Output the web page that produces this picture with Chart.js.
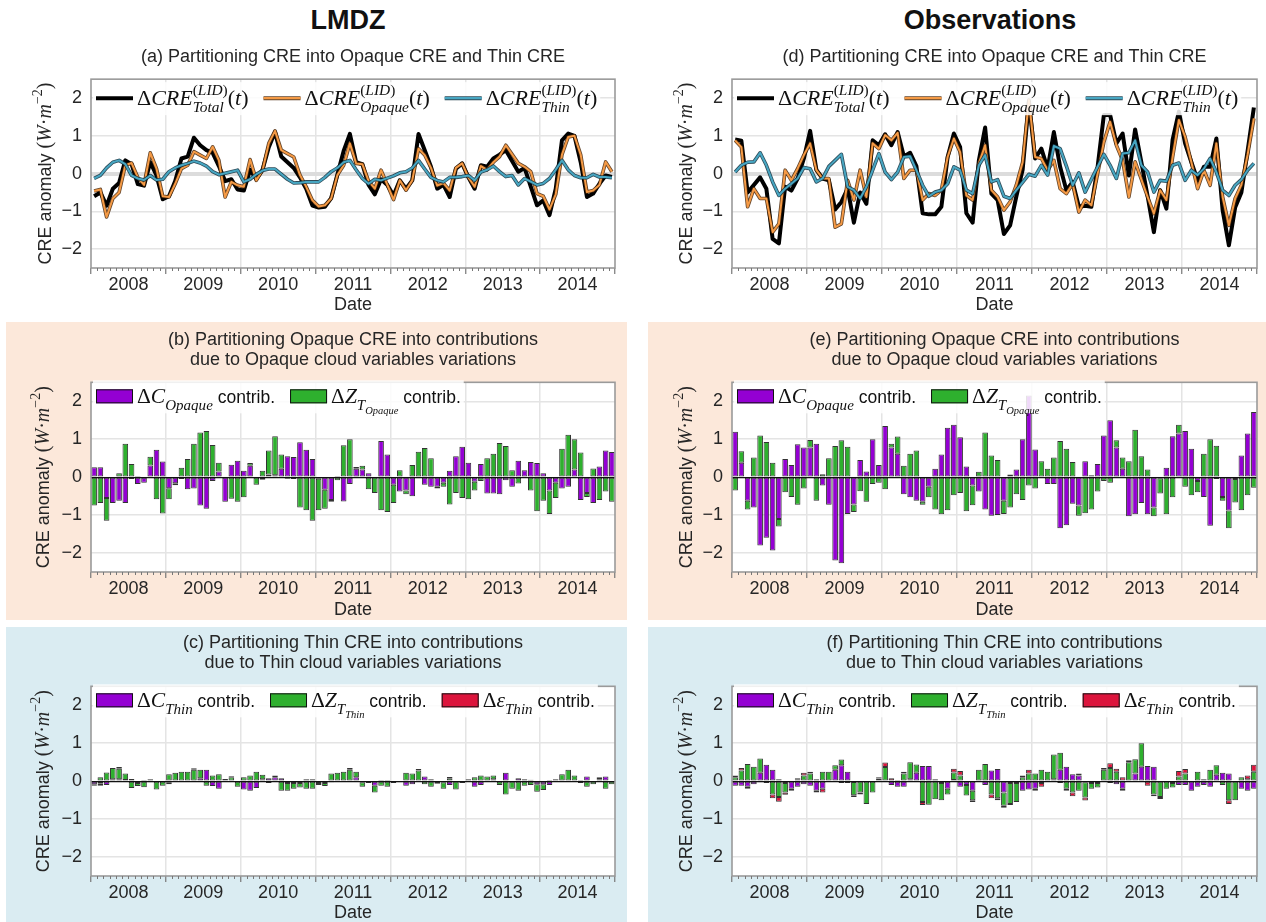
<!DOCTYPE html>
<html>
<head>
<meta charset="utf-8">
<script src="https://cdn.jsdelivr.net/npm/chart.js@4.4.1/dist/chart.umd.min.js"></script>
<style>
  body { margin: 0; background: #fff; width: 1266px; height: 922px; position: relative; overflow: hidden;
         font-family: "Liberation Sans", Arial, sans-serif; }
  .head { position: absolute; top: 5px; width: 300px; text-align: center; font-weight: bold; font-size: 27px; color: #111; }
  .box { position: absolute; }
  .box canvas { display: block; }
  .peach { background: #fce8da; }
  .blue { background: #daecf2; }
</style>
</head>
<body>
<div class="head" style="left:198px">LMDZ</div>
<div class="head" style="left:840px">Observations</div>

<div class="box" style="left:0;top:36px"><canvas id="cA" width="640" height="284"></canvas></div>
<div class="box" style="left:640px;top:36px"><canvas id="cD" width="626" height="284"></canvas></div>
<div class="box peach" style="left:6px;top:322px"><canvas id="cB" width="621" height="298"></canvas></div>
<div class="box peach" style="left:648px;top:322px"><canvas id="cE" width="618" height="298"></canvas></div>
<div class="box blue" style="left:6px;top:627px"><canvas id="cC" width="621" height="295"></canvas></div>
<div class="box blue" style="left:648px;top:627px"><canvas id="cF" width="618" height="295"></canvas></div>

<script>
// monthly anomalies, Jan 2008 .. Dec 2014 (W m-2)
const years = ['2008', '2009', '2010', '2011', '2012', '2013', '2014'];
const xTicks = [0, 6, 12, 18, 24, 30, 36, 42, 48, 54, 60, 66, 72, 78, 84];
const yTicks = [-2, -1, 0, 1, 2];

// LMDZ: total / opaque / thin CRE
const lmdzTotal = [
  -0.6, -0.5, -0.85, -0.4, -0.25, 0.35, 0.25, -0.28, -0.32, 0.3, -0.05, -0.68,
  -0.6, -0.2, 0.4, 0.45, 0.95, 0.75, 0.62, 0.55, 0.2, -0.2, -0.15, -0.42,
  -0.45, 0.1, -0.15, 0.1, 0.7, 1.1, 0.45, 0.3, 0.15, -0.1, -0.4, -0.85,
  -0.9, -0.88, -0.65, 0.0, 0.6, 1.05, 0.3, 0.25, -0.3, -0.55, -0.15, -0.3,
  -0.58, -0.18, -0.4, -0.18, 1.05, 0.62, 0.18, -0.4, -0.3, -0.62, 0.13, 0.27,
  -0.1, -0.4, 0.22, 0.18, 0.4, 0.5, 0.62, 0.0, 0.05, 0.15, 0.0, -0.84,
  -0.71, -1.1, -0.4, 0.88, 1.06, 1.0, 0.3, -0.62, -0.53, -0.27, -0.05, -0.09
];
const lmdzOpaque = [
  -0.46, -0.42, -1.15, -0.66, -0.5, 0.22, 0.28, -0.1, -0.3, 0.55, 0.13, -0.6,
  -0.62, -0.27, 0.13, 0.22, 0.58, 0.49, 0.4, 0.71, 0.35, -0.62, -0.22, -0.31,
  -0.35, 0.37, -0.18, 0.09, 0.8, 1.13, 0.62, 0.53, 0.44, -0.04, -0.35, -0.71,
  -0.87, -0.84, -0.66, -0.04, 0.22, 0.8, 0.27, 0.25, -0.2, -0.4, 0.09, -0.3,
  -0.69, -0.18, -0.44, -0.18, 0.66, 0.49, 0.15, -0.32, -0.25, -0.45, 0.15, 0.27,
  -0.1, -0.35, 0.2, 0.1, 0.3, 0.45, 0.75, 0.0, 0.27, 0.18, 0.05, -0.53,
  -0.6, -0.95, -0.55, 0.5, 0.97, 1.0, 0.5, -0.49, -0.45, -0.3, 0.31, 0.05
];
const lmdzThin = [
  -0.13, -0.05, 0.15, 0.3, 0.35, 0.25, -0.05, -0.13, -0.17, -0.05, -0.17, -0.15,
  0.05, 0.15, 0.22, 0.27, 0.33, 0.28, 0.2, 0.05, -0.03, 0.0, 0.05, 0.09,
  -0.22, -0.15, -0.02, 0.08, 0.12, 0.12, 0.0, -0.15, -0.25, -0.24, -0.22, -0.22,
  -0.22, -0.1, 0.05, 0.15, 0.3, 0.35, 0.1, -0.13, -0.27, -0.15, -0.18, -0.12,
  -0.06, 0.02, 0.05, 0.15, 0.35, 0.12, -0.1, -0.18, -0.22, -0.1, -0.1, -0.08,
  -0.05, -0.18, 0.04, 0.1, 0.2, 0.05, -0.08, -0.05, -0.3, -0.13, 0.0, -0.3,
  -0.26, -0.13, 0.1, 0.35, 0.1, -0.05, -0.11, -0.11, -0.02, -0.09, -0.09, -0.11
];

// Observations: total / opaque / thin CRE
const obsTotal = [
  0.9, 0.87, -0.5, 0.0, -0.1, -0.4, -1.73, -1.85, -0.35, -0.45, -0.13, 0.4,
  1.13, 0.1, -0.13, -0.18, -0.95, -0.75, -0.4, -1.3, -0.5, -0.8, 0.88, 0.75,
  1.04, 0.75, 1.1, 0.45, 0.55, 0.2, -1.05, -1.08, -1.08, -0.88, 0.44, 1.06,
  0.7, -1.05, -1.3, 0.35, 1.22, -0.53, -0.7, -1.6, -1.37, -0.6, 0.1, 1.9,
  0.4, 0.66, 0.13, 1.1, 0.18, -0.44, -0.22, -0.88, -0.85, -0.88, 0.18, 1.55,
  1.55, 0.8, 1.06, -0.05, 1.17, 0.3, -0.6, -1.55, -0.44, -0.93, 0.9, 1.64,
  0.8, 0.3, -0.18, 0.18, 0.18, 0.93, -0.97, -1.9, -0.9, -0.5, 0.6, 1.75
];
const obsOpaque = [
  0.88, 0.7, -0.88, -0.4, -0.66, -0.66, -1.55, -1.33, 0.09, -0.18, 0.13, 0.49,
  0.8, 0.09, -0.13, -0.13, -1.42, -1.33, -0.18, -0.7, 0.09, -0.62, 0.8, 0.66,
  1.02, 0.88, 1.08, -0.13, 0.09, 0.09, -0.7, -0.53, -0.58, -0.44, 0.44, 0.93,
  0.57, -0.58, -0.7, 0.27, 0.75, -0.44, -0.62, -0.97, -0.75, -0.3, 0.3, 1.95,
  0.44, 0.4, 0.09, 0.35, -0.4, -0.53, -0.27, -1.02, -0.7, -0.84, 0.0, 0.84,
  1.37, 0.75, 0.35, -0.62, 0.31, 0.0, -0.62, -1.06, -0.44, -0.7, 0.44, 1.42,
  0.97, 0.3, -0.4, 0.09, -0.31, 0.8, -0.62, -1.37, -0.66, -0.3, 0.5, 1.46
];
const obsThin = [
  0.04, 0.22, 0.3, 0.31, 0.55, 0.22, -0.22, -0.58, -0.4, -0.27, -0.13, 0.16,
  0.13, -0.22, -0.13, 0.19, 0.35, 0.51, -0.35, -0.44, -0.66, -0.35, 0.09, 0.53,
  0.04, -0.16, 0.04, 0.44, 0.46, 0.09, -0.31, -0.6, -0.49, -0.44, -0.27, 0.18,
  0.09, -0.44, -0.53, 0.22, 0.49, -0.22, -0.16, -0.6, -0.66, -0.44, 0.0, -0.02,
  -0.07, 0.22, -0.04, 0.73, 0.66, 0.2, -0.31, 0.02, -0.49, 0.0, 0.18, 0.51,
  0.22, -0.13, 0.53, 0.55, 0.88, 0.22, 0.04, -0.49, -0.18, -0.2, 0.22, 0.28,
  -0.18, 0.09, -0.04, 0.13, 0.4, 0.04, -0.44, -0.58, -0.31, -0.16, 0.09, 0.27
];

// LMDZ opaque CRE split: cover (C) and altitude (Z_T) contributions
const lmdzOpqC = [
  0.26, 0.26, -0.55, -0.68, -0.62, -0.68, -0.05, -0.18, -0.15, 0.31, 0.72, 0.41,
  -0.29, -0.16, -0.05, -0.32, -0.3, -0.75, -0.83, -0.1, 0.15, -0.65, 0.33, 0.43,
  0.17, 0.3, 0.0, -0.07, 0.07, 0.05, 0.22, 0.55, 0.53, 0.92, 0.72, 0.48,
  -0.04, -0.33, -0.6, 0.03, -0.64, -0.18, 0.22, 0.2, 0.1, 0.0, 0.95, 0.6,
  -0.2, -0.38, -0.35, -0.5, -0.03, -0.2, -0.25, -0.25, -0.15, 0.17, 0.55, 0.8,
  0.38, -0.12, 0.35, -0.43, -0.43, -0.45, -0.08, -0.25, 0.43, 0.18, 0.4, 0.37,
  0.1, -0.35, -0.15, -0.3, -0.25, 0.2, -0.6, -0.42, -0.68, 0.28, 0.7, 0.66
];
const lmdzOpqZ = [
  -0.75, -0.68, -0.6, 0.0, 0.1, 0.88, 0.35, 0.03, 0.0, 0.23, -0.58, -0.96,
  -0.29, -0.05, 0.25, 0.48, 0.88, 1.18, 1.22, 0.85, 0.23, 0.0, -0.57, -0.65,
  -0.53, 0.07, -0.2, 0.17, 0.63, 1.03, 0.38, -0.04, -0.05, -0.8, -0.87, -1.15,
  -0.83, -0.5, -0.05, -0.08, 0.84, 1.0, 0.05, 0.1, -0.32, -0.42, -0.87, -0.92,
  -0.48, 0.18, -0.1, 0.32, 0.67, 0.77, 0.5, -0.05, -0.1, -0.72, -0.42, -0.55,
  -0.58, -0.23, -0.1, 0.5, 0.62, 0.9, 0.82, 0.18, -0.17, 0.0, -0.35, -0.9,
  -0.62, -0.62, -0.4, 0.75, 1.12, 0.8, 0.65, -0.1, 0.23, -0.6, -0.38, -0.65
];

// Observed opaque CRE split
const obsOpqC = [
  1.2, 0.38, -0.62, -0.8, -1.8, -1.6, -1.93, -1.1, 0.48, 0.32, 0.87, 0.78,
  0.78, 0.88, -0.22, -0.73, -2.2, -2.27, -0.97, -0.72, 0.45, 0.15, 1.0, 0.32,
  1.35, 0.78, 0.62, -0.45, -0.53, -0.62, -0.65, -0.25, 0.22, 0.6, 1.3, 1.38,
  1.05, 0.28, -0.22, -0.38, -0.85, -1.02, -1.0, -0.62, 0.07, 0.2, 1.0, 2.15,
  0.73, 0.0, -0.18, -0.18, -1.35, -1.27, -0.7, -0.75, 0.42, 0.05, 0.35, 1.1,
  1.5, 0.78, 0.22, -1.03, -0.98, -0.68, -0.98, -0.8, -0.03, 0.25, 1.08, 1.15,
  1.22, 0.75, -0.1, -0.52, -1.28, -0.05, -0.52, -0.88, -0.05, 0.57, 1.15, 1.72
];
const obsOpqZ = [
  -0.35, 0.3, -0.23, 0.52, 1.1, 0.93, 0.38, -0.2, -0.4, -0.52, -0.73, -0.3,
  0.2, -0.62, 0.08, 0.5, 0.82, 0.97, 0.8, -0.2, -0.37, -0.65, -0.18, -0.15,
  -0.32, 0.1, 0.45, 0.3, 0.62, 0.7, -0.08, -0.28, -0.85, -0.98, -0.87, -0.48,
  -0.42, -0.9, -0.52, 0.14, 1.18, 0.57, 0.45, -0.35, -0.8, -0.45, -0.6, -0.22,
  -0.3, 0.42, 0.22, 0.52, 0.95, 0.75, 0.4, -0.27, -0.95, -0.85, -0.38, -0.1,
  -0.15, 0.19, 0.3, 0.42, 1.25, 0.55, 0.2, -0.23, -0.4, -0.98, -0.53, 0.23,
  -0.25, -0.48, -0.3, 0.62, 1.0, 0.83, -0.1, -0.47, -0.62, -0.87, -0.48, -0.28
];

// LMDZ thin CRE split: cover (C), altitude (Z_T), emissivity (eps)
const lmdzThinC = [
  -0.08, -0.07, -0.1, 0.05, 0.05, 0.03, 0.06, -0.05, 0.03, -0.03, 0.0, 0.0,
  -0.03, 0.0, 0.0, 0.0, 0.0, 0.08, 0.3, -0.13, -0.2, 0.03, 0.0, 0.02,
  -0.22, -0.25, -0.18, 0.05, 0.08, 0.1, 0.08, -0.05, -0.05, -0.05, 0.05, 0.05,
  -0.05, -0.05, -0.03, 0.0, 0.0, 0.0, 0.1, -0.03, 0.0, -0.12, 0.03, 0.0,
  0.0, -0.03, -0.12, -0.08, 0.0, 0.12, 0.05, 0.0, -0.03, -0.1, 0.0, 0.02,
  0.0, -0.15, -0.1, 0.0, 0.05, 0.0, 0.22, 0.0, 0.08, 0.05, 0.0, -0.08,
  -0.08, -0.1, 0.0, 0.0, 0.0, 0.0, 0.03, 0.12, 0.0, 0.05, 0.12, 0.0
];
const lmdzThinZ = [
  0.0, 0.1, 0.23, 0.3, 0.28, 0.17, -0.18, -0.08, -0.16, 0.05, -0.22, -0.12,
  0.18, 0.22, 0.25, 0.25, 0.3, 0.22, -0.12, 0.15, 0.18, 0.03, 0.1, -0.15,
  0.1, 0.15, 0.25, 0.12, -0.05, 0.05, -0.25, -0.2, -0.15, -0.12, -0.2, -0.2,
  -0.05, -0.08, 0.2, 0.22, 0.25, 0.3, 0.15, -0.12, -0.05, -0.18, -0.12, -0.15,
  -0.05, 0.02, 0.22, 0.2, 0.28, -0.08, -0.15, -0.07, -0.17, 0.08, -0.22, -0.05,
  0.05, 0.1, 0.15, 0.12, 0.1, -0.1, -0.35, -0.2, -0.25, -0.12, -0.1, -0.2,
  -0.15, 0.0, 0.05, 0.18, 0.3, 0.15, -0.05, -0.15, -0.08, 0.05, -0.2, -0.08
];
const lmdzThinE = [
  -0.04, -0.05, 0.0, 0.0, 0.04, 0.0, 0.0, 0.0, 0.0, 0.0, 0.0, 0.0,
  -0.05, 0.0, 0.0, 0.0, 0.04, 0.0, 0.0, 0.0, 0.0, 0.0, 0.03, 0.0,
  0.0, 0.0, 0.0, 0.0, 0.0, 0.0, 0.0, 0.0, 0.0, 0.0, 0.0, 0.0,
  0.0, 0.0, 0.0, 0.0, 0.0, 0.05, 0.0, 0.0, 0.0, 0.0, 0.0, 0.03,
  0.02, 0.0, 0.0, 0.0, 0.04, 0.0, 0.0, 0.0, 0.0, 0.03, 0.0, 0.0,
  0.0, 0.0, 0.0, 0.0, 0.0, 0.0, 0.0, 0.0, 0.0, 0.0, 0.04, 0.0,
  0.0, 0.03, 0.0, 0.0, 0.0, 0.0, 0.0, 0.0, 0.0, 0.0, 0.0, 0.0
];

// Observed thin CRE split
const obsThinC = [
  -0.12, -0.12, -0.15, -0.08, 0.22, 0.43, 0.3, 0.05, -0.05, -0.2, -0.15, -0.08,
  -0.12, -0.25, -0.2, 0.0, 0.3, 0.42, 0.25, -0.02, 0.0, 0.0, 0.0, 0.02,
  0.0, -0.1, -0.15, -0.15, 0.05, 0.22, 0.4, 0.4, 0.05, -0.05, -0.2, 0.03,
  -0.15, -0.1, -0.25, 0.0, -0.1, 0.28, 0.32, -0.3, -0.05, -0.05, -0.25, -0.22,
  -0.2, -0.05, -0.02, 0.05, 0.3, 0.38, 0.18, 0.15, -0.03, -0.05, -0.05, 0.0,
  -0.05, -0.08, -0.2, 0.0, 0.2, 0.38, 0.4, 0.38, 0.0, 0.0, -0.05, -0.1,
  -0.1, -0.25, -0.15, -0.1, -0.15, 0.17, 0.22, 0.2, 0.0, -0.2, -0.25, -0.2
];
const obsThinZ = [
  0.1, 0.28, 0.45, 0.38, 0.38, -0.05, -0.35, -0.42, -0.25, -0.05, 0.05, 0.15,
  0.2, 0.05, 0.25, 0.25, 0.12, 0.15, -0.05, -0.35, -0.3, -0.6, -0.3, 0.05,
  0.37, 0.0, 0.03, 0.2, 0.45, 0.22, -0.55, -0.62, -0.48, -0.45, -0.15, 0.2,
  0.15, -0.28, -0.25, 0.3, 0.45, -0.35, -0.45, -0.35, -0.55, -0.5, 0.1, 0.2,
  0.2, 0.3, 0.25, 0.65, 0.45, -0.2, -0.3, -0.25, -0.4, -0.15, -0.12, 0.3,
  0.35, 0.25, -0.05, 0.5, 0.38, 0.62, 0.0, -0.35, -0.42, -0.2, -0.12, 0.12,
  0.2, 0.0, 0.25, 0.05, 0.3, 0.25, -0.1, -0.5, -0.5, 0.1, 0.05, 0.25
];
const obsThinE = [
  0.05, 0.07, -0.05, 0.0, -0.03, 0.0, -0.1, -0.12, -0.06, 0.0, 0.03, 0.07,
  0.05, -0.05, -0.1, 0.0, 0.0, -0.05, 0.0, -0.05, -0.05, 0.0, 0.0, 0.03,
  0.12, 0.08, 0.0, 0.05, 0.0, 0.0, -0.08, 0.0, 0.0, 0.0, 0.02, 0.1,
  0.12, 0.0, -0.05, 0.0, 0.0, -0.1, -0.05, -0.05, -0.03, 0.0, 0.05, 0.1,
  -0.05, -0.1, 0.0, 0.0, -0.05, -0.05, -0.1, 0.05, -0.08, 0.0, 0.0, 0.05,
  0.12, 0.08, 0.1, 0.05, 0.0, 0.0, -0.12, -0.05, -0.05, 0.0, 0.0, 0.15,
  0.12, 0.0, 0.0, 0.0, 0.0, 0.0, 0.0, -0.1, 0.0, 0.0, 0.1, 0.18
];

const SANS = '"Liberation Sans", Arial, sans-serif';
const MATH = '"Liberation Serif", "DejaVu Serif", serif';
const INK = '#262626';
const GRID = '#e4e4e4';
const FRAME = '#9a9a9a';
const PURPLE = '#9400d3', GREEN = '#2eb02e', RED = '#dc143c';
const ORANGE = '#f59a45', TEAL = '#47a6c2';
const FS = 18;

// place each monthly value in the middle of its month
function pts(vals) {
  return vals.map((v, i) => ({ x: i + 0.5, y: v === 0 ? null : v }));
}

// draws a small run of mathtext-like pieces; returns its width
function rich(ctx, parts, x, y, size, sansSize, draw) {
  let w = 0;
  parts.forEach(p => {
    if (p.sub || p.sup) {
      const a = p.sub ? rich(ctx, p.sub, x + w, y + size * 0.3, size * 0.7, sansSize, draw) : 0;
      const b = p.sup ? rich(ctx, p.sup, x + w, y - size * 0.45, size * 0.7, sansSize, draw) : 0;
      w += Math.max(a, b);
      return;
    }
    ctx.font = p.sans ? sansSize + 'px ' + SANS : (p.i ? 'italic ' : '') + size + 'px ' + MATH;
    if (draw) ctx.fillText(p.t, x + w, y);
    w += ctx.measureText(p.t).width;
  });
  return w;
}

function cre(s) {
  return [{ t: '\u0394' }, { t: 'CRE', i: 1 },
    { sub: [{ t: s, i: 1 }], sup: [{ t: '(' }, { t: 'LID', i: 1 }, { t: ')' }] },
    { t: '(' }, { t: 't', i: 1 }, { t: ')' }];
}
function contrib(sym, sub) {
  return [{ t: '\u0394' }, { t: sym, i: 1 }, { sub: sub }, { t: ' contrib.', sans: 1 }];
}

const lineLegend = [
  { kind: 'line', color: '#000', w: 4, parts: cre('Total') },
  { kind: 'line', color: ORANGE, edge: 'rgba(70,35,5,0.85)', w: 2.2, parts: cre('Opaque') },
  { kind: 'line', color: TEAL, edge: 'rgba(10,45,60,0.85)', w: 2.2, parts: cre('Thin') }
];
const opqLegend = [
  { kind: 'patch', color: PURPLE, parts: contrib('C', [{ t: 'Opaque', i: 1 }]) },
  { kind: 'patch', color: GREEN, parts: contrib('Z', [{ t: 'T', i: 1 }, { sub: [{ t: 'Opaque', i: 1 }] }]) }
];
const thinLegend = [
  { kind: 'patch', color: PURPLE, parts: contrib('C', [{ t: 'Thin', i: 1 }]) },
  { kind: 'patch', color: GREEN, parts: contrib('Z', [{ t: 'T', i: 1 }, { sub: [{ t: 'Thin', i: 1 }] }]) },
  { kind: 'patch', color: RED, parts: contrib('\u03b5', [{ t: 'Thin', i: 1 }]) }
];
const yTitle = [{ t: 'CRE anomaly ', sans: 1 }, { t: '(' }, { t: 'W', i: 1 }, { t: '\u00b7' },
  { t: 'm', i: 1 }, { sup: [{ t: '\u2212' }, { t: '2' }] }, { t: ')' }];

function drawLegend(ctx, a, p) {
  const yc = a.top + p.legendDy;
  const gap = 15, sample = 37;
  const mSize = p.kind === 'line' ? 22 : 21.5;
  const sSize = 17.5;
  let total = 0;
  p.legend.forEach(it => { total += sample + 4 + rich(ctx, it.parts, 0, 0, mSize, sSize, false) + gap; });
  ctx.fillStyle = 'rgba(255,255,255,0.85)';
  ctx.fillRect(a.left + 2, yc - 16, Math.min(total - gap + 6, a.right - a.left - 4), 33);
  let x = a.left + 5;
  p.legend.forEach(it => {
    if (it.kind === 'line') {
      ctx.lineCap = 'butt';
      if (it.edge) {
        ctx.strokeStyle = it.edge; ctx.lineWidth = 4;
        ctx.beginPath(); ctx.moveTo(x, yc); ctx.lineTo(x + sample, yc); ctx.stroke();
      }
      ctx.strokeStyle = it.color; ctx.lineWidth = it.w;
      ctx.beginPath(); ctx.moveTo(x, yc); ctx.lineTo(x + sample, yc); ctx.stroke();
    } else {
      ctx.fillStyle = it.color; ctx.fillRect(x, yc - 7, sample, 14);
      ctx.strokeStyle = '#111'; ctx.lineWidth = 1; ctx.strokeRect(x + 0.5, yc - 6.5, sample - 1, 13);
    }
    x += sample + 4;
    ctx.fillStyle = '#111';
    ctx.textBaseline = 'alphabetic';
    x += rich(ctx, it.parts, x, yc + 7, mSize, sSize, true) + gap;
  });
}

const decor = p => ({
  id: 'decor',
  beforeDraw(chart) {
    const { ctx, chartArea: a } = chart;
    ctx.save();
    ctx.fillStyle = '#fff';
    ctx.fillRect(a.left, a.top, a.right - a.left, a.bottom - a.top);
    ctx.restore();
  },
  afterDraw(chart) {
    const { ctx, chartArea: a, scales } = chart;
    ctx.save();
    ctx.strokeStyle = FRAME; ctx.lineWidth = 1.6;
    ctx.strokeRect(a.left, a.top, a.right - a.left, a.bottom - a.top);
    // small monthly ticks along the date axis
    ctx.strokeStyle = '#777'; ctx.lineWidth = 1;
    for (let m = 1; m < 84; m++) {
      if (m % 12 === 0) continue;
      const x = Math.round(scales.x.getPixelForValue(m)) + 0.5;
      ctx.beginPath(); ctx.moveTo(x, a.bottom); ctx.lineTo(x, a.bottom + 3); ctx.stroke();
    }
    drawLegend(ctx, a, p);
    // y axis label, rotated
    ctx.fillStyle = INK;
    ctx.translate(p.yTitleX, (a.top + a.bottom) / 2);
    ctx.rotate(-Math.PI / 2);
    const w = rich(ctx, yTitle, 0, 0, 20, 18, false);
    rich(ctx, yTitle, -w / 2, 6, 20, 18, true);
    ctx.restore();
  }
});

function lineSets(total, opaque, thin) {
  return [
    { data: pts(total), borderColor: '#000', borderWidth: 4, order: 6 },
    { data: pts(opaque), borderColor: 'rgba(70,35,5,0.85)', borderWidth: 3.6, order: 5 },
    { data: pts(opaque), borderColor: ORANGE, borderWidth: 2, order: 4 },
    { data: pts(thin), borderColor: 'rgba(10,45,60,0.85)', borderWidth: 3.6, order: 3 },
    { data: pts(thin), borderColor: TEAL, borderWidth: 2, order: 2 }
  ].map(d => Object.assign({ pointRadius: 0, tension: 0, fill: false, borderJoinStyle: 'round', spanGaps: true }, d));
}

function barSets(series) {
  const colors = [PURPLE, GREEN, RED];
  return series.map((vals, k) => ({
    data: pts(vals), backgroundColor: colors[k], borderColor: 'rgba(0,0,0,0.8)',
    borderWidth: 1, borderSkipped: false, barPercentage: 0.9, categoryPercentage: 1,
    order: k + 1, stack: 'cre'
  }));
}

const panels = [
  { id: 'cA', kind: 'line', title: ['(a) Partitioning CRE into Opaque CRE and Thin CRE'],
    left: 91, padR: 25, tPad: [11, 12], xH: 52, dPad: 5, yTitleX: 45, legendDy: 19, legend: lineLegend,
    sets: lineSets(lmdzTotal, lmdzOpaque, lmdzThin) },
  { id: 'cD', kind: 'line', title: ['(d) Partitioning CRE into Opaque CRE and Thin CRE'],
    left: 92, padR: 9, tPad: [11, 12], xH: 52, dPad: 5, yTitleX: 46, legendDy: 19, legend: lineLegend,
    sets: lineSets(obsTotal, obsOpaque, obsThin) },
  { id: 'cB', kind: 'bar', title: ['(b) Partitioning Opaque CRE into contributions', 'due to Opaque cloud variables variations'],
    left: 85, padR: 12, tPad: [8, 12], xH: 48, dPad: 0, yTitleX: 37, legendDy: 14, legend: opqLegend,
    sets: barSets([lmdzOpqC, lmdzOpqZ]) },
  { id: 'cE', kind: 'bar', title: ['(e) Partitioning Opaque CRE into contributions', 'due to Opaque cloud variables variations'],
    left: 84, padR: 9, tPad: [8, 12], xH: 48, dPad: 0, yTitleX: 38, legendDy: 14, legend: opqLegend,
    sets: barSets([obsOpqC, obsOpqZ]) },
  { id: 'cC', kind: 'bar', title: ['(c) Partitioning Thin CRE into contributions', 'due to Thin cloud variables variations'],
    left: 85, padR: 12, tPad: [6, 13], xH: 46, dPad: -1, yTitleX: 37, legendDy: 14, legend: thinLegend,
    sets: barSets([lmdzThinC, lmdzThinZ, lmdzThinE]) },
  { id: 'cF', kind: 'bar', title: ['(f) Partitioning Thin CRE into contributions', 'due to Thin cloud variables variations'],
    left: 84, padR: 9, tPad: [6, 13], xH: 46, dPad: -1, yTitleX: 38, legendDy: 14, legend: thinLegend,
    sets: barSets([obsThinC, obsThinZ, obsThinE]) }
];

panels.forEach(p => {
  const isBar = p.kind === 'bar';
  new Chart(document.getElementById(p.id), {
    type: p.kind,
    data: { datasets: p.sets },
    plugins: [decor(p)],
    options: {
      responsive: false, animation: false, devicePixelRatio: 1,
      layout: { padding: { left: 0, right: p.padR, top: 0, bottom: 0 } },
      plugins: {
        legend: { display: false },
        tooltip: { enabled: false },
        title: {
          display: true, text: p.title, fullSize: false, color: INK,
          font: { family: SANS, size: FS, weight: 'normal', lineHeight: 1.12 },
          padding: { top: p.tPad[0], bottom: p.tPad[1] }
        }
      },
      scales: {
        x: {
          type: 'linear', min: 0, max: 84, offset: false, stacked: isBar,
          afterBuildTicks: s => { s.ticks = xTicks.map(v => ({ value: v })); },
          afterFit: s => { s.height = p.xH; },
          ticks: {
            autoSkip: false, maxRotation: 0, minRotation: 0, padding: 0, color: INK,
            font: { family: SANS, size: FS },
            callback: v => (v % 12 === 6 ? years[(v - 6) / 12] : '')
          },
          grid: {
            offset: false,
            color: c => (c.tick && c.tick.value % 12 === 0 && c.tick.value > 0 && c.tick.value < 84) ? GRID : 'rgba(0,0,0,0)',
            lineWidth: 1.5, tickLength: 6, tickWidth: 1.2,
            tickColor: c => (c.tick && c.tick.value % 12 === 0) ? '#777' : 'rgba(0,0,0,0)'
          },
          border: { display: false },
          title: {
            display: true, text: 'Date', color: INK,
            font: { family: SANS, size: FS, lineHeight: 1.12 },
            padding: { top: 0, bottom: p.dPad }
          }
        },
        y: {
          min: -2.5, max: 2.5, stacked: isBar,
          afterBuildTicks: s => { s.ticks = yTicks.map(v => ({ value: v })); },
          afterFit: s => { s.width = p.left; },
          ticks: {
            padding: 9, color: INK, font: { family: SANS, size: FS },
            callback: v => (v < 0 ? '\u2212' + Math.abs(v) : String(v))
          },
          grid: {
            drawTicks: false,
            color: c => (c.tick && c.tick.value === 0) ? (isBar ? '#111' : '#dcdcdc') : GRID,
            lineWidth: c => (c.tick && c.tick.value === 0) ? (isBar ? 1.2 : 4) : 1.5
          },
          border: { display: false }
        }
      }
    }
  });
});
</script>
</body>
</html>
